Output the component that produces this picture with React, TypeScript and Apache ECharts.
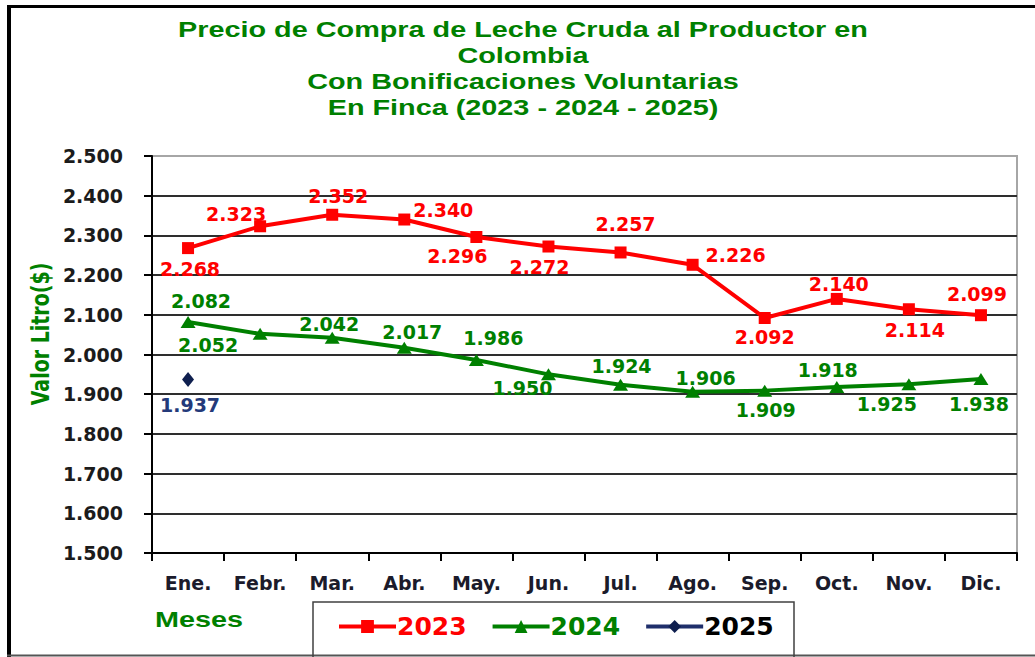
import React, { useEffect, useRef } from "react";
import * as echarts from "echarts";

const months = ["Ene.", "Febr.", "Mar.", "Abr.", "May.", "Jun.", "Jul.", "Ago.", "Sep.", "Oct.", "Nov.", "Dic."];
const values2023 = [2268, 2323, 2352, 2340, 2296, 2272, 2257, 2226, 2092, 2140, 2114, 2099];
const values2024 = [2082, 2052, 2042, 2017, 1986, 1950, 1924, 1906, 1909, 1918, 1925, 1938];
const values2025 = [1937, null, null, null, null, null, null, null, null, null, null, null];
const titleLines = [
  "Precio de Compra de Leche Cruda al Productor en",
  "Colombia",
  "Con Bonificaciones Voluntarias",
  "En Finca (2023 - 2024 - 2025)",
];

// label offsets (styling only)
const off2023 = [[2, 21], [-24, -12], [6, -19], [39, -10], [-19, 19], [-9, 20], [5, -28], [43, -10], [0, 19], [2, -15], [6, 21], [-4, -21]];
const off2024 = [[13, -21], [-52, 11], [-3, -14], [8, -16], [17, -22], [-26, 14], [1, -19], [13, -14], [1, 19], [-9, -17], [-22, 20], [-2, 25]];
const off2025 = [[2, 25]];

const RED = "#ff0000";
const GREEN = "#008000";
const NAVY = "#1f2f6b";
const FONT = "'DejaVu Sans', Verdana, sans-serif";
const ARIAL = "'Liberation Sans', Arial, sans-serif";

const fmt = (v: number) => {
  const s = String(Math.round(v));
  return s.length > 3 ? s.slice(0, -3) + "." + s.slice(-3) : s;
};

const mkData = (vals: (number | null)[], offs: number[][]) =>
  vals.map((v, i) =>
    v == null ? null : { value: v, label: { offset: offs[i] || [0, 0] } }
  );

export default function App() {
  const ref = useRef<HTMLDivElement>(null);
  useEffect(() => {
    if (!ref.current) return;
    const chart = echarts.init(ref.current, undefined, { renderer: "svg" });
    const labelBase = {
      show: true,
      position: "inside",
      fontFamily: FONT,
      fontWeight: "bold",
      fontSize: 19,
      formatter: (p: any) => fmt(p.value),
    };
    chart.setOption({
      animation: false,
      backgroundColor: "#ffffff",
      grid: {
        left: 152,
        right: 18,
        top: 156,
        bottom: 104,
        show: true,
        borderColor: "#a6a6a6",
        borderWidth: 2,
        containLabel: false,
      },
      xAxis: {
        type: "category",
        data: months,
        boundaryGap: true,
        axisLine: { lineStyle: { color: "#000", width: 2 } },
        axisTick: { show: true, length: 8, lineStyle: { color: "#000", width: 2 } },
        axisLabel: {
          fontFamily: FONT,
          fontWeight: "bold",
          fontSize: 19,
          color: "#1b1b2b",
          margin: 20,
          interval: 0,
        },
        splitLine: { show: false },
      },
      yAxis: {
        type: "value",
        min: 1500,
        max: 2500,
        interval: 100,
        axisLine: { show: true, lineStyle: { color: "#000", width: 2 } },
        axisTick: { show: true, length: 8, lineStyle: { color: "#000", width: 2 } },
        axisLabel: {
          fontFamily: FONT,
          fontWeight: "bold",
          fontSize: 19,
          color: "#1b1b1b",
          margin: 29,
          formatter: (v: number) => fmt(v),
        },
        splitLine: { show: true, showMaxLine: false, lineStyle: { color: "#2e2e2e", width: 2 } },
      },
      legend: {
        left: 337,
        top: 614,
        padding: 0,
        itemGap: 24,
        itemWidth: 57,
        itemHeight: 16,
        lineStyle: { width: 4 },
        textStyle: { fontFamily: FONT, fontWeight: "bold", fontSize: 25, padding: [0, 0, 0, -4] },
        data: [
          { name: "2023", textStyle: { color: RED } },
          { name: "2024", textStyle: { color: GREEN } },
          { name: "2025", textStyle: { color: "#000" } },
        ],
      },
      series: [
        {
          name: "2023",
          type: "line",
          data: mkData(values2023, off2023),
          symbol: "rect",
          symbolSize: 12,
          itemStyle: { color: RED },
          lineStyle: { color: RED, width: 4 },
          label: { ...labelBase, color: RED },
        },
        {
          name: "2024",
          type: "line",
          data: mkData(values2024, off2024),
          symbol: "triangle",
          symbolSize: [15, 12],
          itemStyle: { color: GREEN },
          lineStyle: { color: GREEN, width: 4 },
          label: { ...labelBase, color: GREEN },
        },
        {
          name: "2025",
          type: "line",
          data: mkData(values2025, off2025),
          symbol: "diamond",
          symbolSize: [12, 15],
          itemStyle: { color: "#0f1f4f" },
          lineStyle: { color: NAVY, width: 4 },
          label: { ...labelBase, color: "#243a7a" },
        },
      ],
      graphic: [
        { type: "rect", shape: { x: 7, y: 5, width: 4, height: 652 }, style: { fill: "#000" }, silent: true },
        { type: "rect", shape: { x: 7, y: 5, width: 1028, height: 3 }, style: { fill: "#000" }, silent: true },
        { type: "line", shape: { x1: 7, y1: 655.5, x2: 1035, y2: 655.5 }, style: { stroke: "#555", lineWidth: 2 }, silent: true },
        {
          type: "rect",
          shape: { x: 313, y: 602, width: 481, height: 60 },
          style: { fill: "none", stroke: "#404040", lineWidth: 1.5 },
          silent: true,
        },
        ...titleLines.map((t, i) => ({
          type: "text",
          x: 523,
          y: 29 + i * 26,
          scaleX: 1.31,
          silent: true,
          style: {
            text: t,
            fontFamily: ARIAL,
            fontWeight: "bold",
            fontSize: 22,
            fill: GREEN,
            align: "center",
            verticalAlign: "middle",
          },
        })),
        {
          type: "text",
          x: 199,
          y: 619,
          scaleX: 1.31,
          silent: true,
          style: {
            text: "Meses",
            fontFamily: ARIAL,
            fontWeight: "bold",
            fontSize: 22,
            fill: GREEN,
            align: "center",
            verticalAlign: "middle",
          },
        },
        {
          type: "text",
          x: 41,
          y: 334,
          rotation: Math.PI / 2,
          scaleY: 1.3,
          silent: true,
          style: {
            text: "Valor Litro($)",
            fontFamily: FONT,
            fontWeight: "bold",
            fontSize: 19,
            fill: GREEN,
            align: "center",
            verticalAlign: "middle",
          },
        },
      ],
    });
    return () => chart.dispose();
  }, []);
  return (
    <div
      ref={ref}
      style={{ position: "fixed", left: 0, top: 0, width: 1035, height: 657, background: "#fff" }}
    />
  );
}
